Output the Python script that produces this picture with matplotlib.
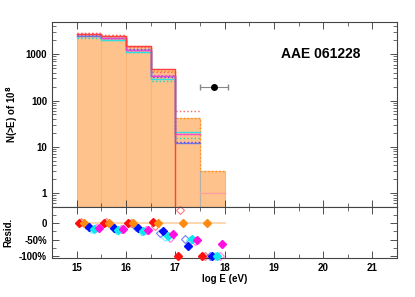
import numpy as np
from matplotlib import pyplot as plt
from matplotlib.ticker import MultipleLocator, LogLocator, NullFormatter

plt.rcParams['font.family'] = ['Liberation Sans', 'DejaVu Sans']
plt.rcParams['font.weight'] = 'bold'

# bin edges in log E (eV)
edges = [15.0, 15.5, 16.0, 16.5, 17.0, 17.5, 18.0]
# filled histogram N(>E)
bar_vals = [2800, 2550, 1450, 470, 42, 3.0]

# model step lines (nan = nothing in that bin, 0.01 = drops off the scale)
red_solid = [2800, 2550, 1510, 485, 0.01, 0.01]
red_dot = [2950, 2650, 1460, 420, 60, np.nan]
orange_dot = [2850, 2600, 1480, 430, 42, 3.0]
blue_solid = [2460, 2220, 1260, 340, 12, np.nan]
blue_dot = [2660, 2200, 1280, 330, 12.5, np.nan]
cyan_solid = [2500, 2000, 1150, 290, 21, np.nan]
cyan_dot = [2300, 2040, 1100, 265, 15.5, np.nan]
mag_solid = [2700, 2300, 1250, 345, 19, np.nan]
mag_dot = [2750, 2250, 1230, 350, 19, np.nan]
pink_solid = [np.nan, np.nan, np.nan, np.nan, np.nan, 1.0]

# observed point
obs_x = 17.79
obs_y = 195
obs_xlo = 0.29
obs_xhi = 0.28

# residuals in percent, one value per bin
bin_lo = [15.0, 15.5, 16.0, 16.5, 17.0, 17.5]
resid = {
    'red': ([0, 0, 0, 3, -100, -100], 0.05, True),
    'red_open': ([3, 5, 1, -9, 42, -100], 0.10, False),
    'orange': ([0, 0, 0, 0, 0, 0], 0.15, True),
    'blue_open': ([-5, -6, -10, -30, -48, -100], 0.20, False),
    'blue': ([-12, -13, -13, -23, -70, -100], 0.25, True),
    'cyan_open': ([-17, -20, -25, -42, -50, -100], 0.30, False),
    'cyan': ([-19, -20, -24, -40, -48, -100], 0.35, True),
    'mag_open': ([-15, -18, -20, -45, -53, -100], 0.40, False),
    'mag': ([-16, -18, -22, -33, -51, -65], 0.45, True),
}
colors = {'red': '#ff1010', 'orange': '#ff8c10', 'blue': '#0010ff',
          'cyan': '#10e8f0', 'mag': '#ff10e0'}


def step(ax, vals, **kw):
    ys = list(vals) + [vals[-1]]
    ax.step(edges, ys, where='post', **kw)


def style_axes(ax):
    ax.tick_params(which='both', direction='in', top=True, right=True,
                   labelsize=7, colors='#333333', labelcolor='black')
    ax.tick_params(which='major', length=5, width=0.6)
    ax.tick_params(which='minor', length=3, width=0.5)
    for lab in ax.get_xticklabels() + ax.get_yticklabels():
        lab.set_fontweight('bold')
    for s in ax.spines.values():
        s.set_color('#444444')
        s.set_linewidth(0.8)


fig = plt.figure(figsize=(4.15, 2.97), dpi=100)
ax1 = fig.add_axes([0.125, 0.303, 0.832, 0.623])
ax2 = fig.add_axes([0.125, 0.131, 0.832, 0.172], sharex=ax1)

ax1.bar(edges[:-1], bar_vals, width=0.5, align='edge', color='#fec38c',
        edgecolor='#fdb577', linewidth=0.8, zorder=1)
ax1.plot([17.5, 17.5], [0.01, bar_vals[-1]], color='#b8b0a8', lw=0.8, zorder=2)
step(ax1, orange_dot, color='#ff8c10', ls=':', lw=1, zorder=2)
step(ax1, red_dot, color='#ff6060', ls=':', lw=1, zorder=2)
step(ax1, cyan_dot, color='#20d0c0', ls=':', lw=1, zorder=2)
step(ax1, blue_dot, color='#4040ff', ls=':', lw=1, zorder=2)
step(ax1, mag_dot, color='#ff50c0', ls=':', lw=1, zorder=2)
step(ax1, cyan_solid, color='#30e0e0', lw=1, zorder=3)
step(ax1, blue_solid, color='#7070e0', lw=1, zorder=3)
step(ax1, mag_solid, color='#ff40d0', lw=1, alpha=0.8, zorder=3)
step(ax1, pink_solid, color='#ffa0a0', lw=1, zorder=3)
step(ax1, red_solid, color='#ff4040', lw=1, zorder=4)

ax1.errorbar(obs_x, obs_y, xerr=[[obs_xlo], [obs_xhi]], fmt='o', color='black',
             ecolor='#888888', elinewidth=0.8, capsize=2, ms=4, zorder=5)

ax1.text(19.95, 1000, 'AAE 061228', fontsize=10, fontweight='bold',
         ha='center', va='center')
ax1.set_yscale('log')
ax1.set_xlim(14.5, 21.5)
ax1.set_ylim(0.5, 5000)
ax1.set_yticks([1, 10, 100, 1000])
ax1.set_yticklabels(['1', '10', '100', '1000'])
ax1.yaxis.set_minor_locator(LogLocator(base=10, subs=np.arange(2, 10)))
ax1.yaxis.set_minor_formatter(NullFormatter())
ax1.set_ylabel('N(>E) of 10$^8$', fontsize=7, fontweight='bold')
ax1.xaxis.set_major_locator(MultipleLocator(1))
ax1.xaxis.set_minor_locator(MultipleLocator(0.5))
plt.setp(ax1.get_xticklabels(), visible=False)
style_axes(ax1)

ax2.plot([15, 18], [0, 0], color='#fcd0a0', lw=1.2, zorder=1)
for name, (vals, off, filled) in resid.items():
    base = name.replace('_open', '')
    xs = [b + off for b in bin_lo]
    if filled:
        ax2.errorbar(xs, vals, xerr=0.03, yerr=4, fmt='D', color=colors[base],
                     ms=4, elinewidth=0.8, capsize=0, zorder=3, clip_on=False)
    else:
        ax2.plot(xs, vals, 'D', mfc='none', mec=colors[base], alpha=0.55,
                 ms=4.5, mew=0.8, zorder=2, clip_on=False)

ax2.set_ylim(-107, 50)
ax2.set_yticks([0, -50, -100])
ax2.set_yticklabels(['0', '-50%', '-100%'])
ax2.yaxis.set_minor_locator(MultipleLocator(25))
ax2.set_ylabel('Resid.', fontsize=7, fontweight='bold')
ax2.set_xlabel('log E (eV)', fontsize=7, fontweight='bold', labelpad=1)
ax2.set_xticks([15, 16, 17, 18, 19, 20, 21])
ax2.xaxis.set_minor_locator(MultipleLocator(0.5))
style_axes(ax2)

fig.savefig('out.png', dpi=100)
